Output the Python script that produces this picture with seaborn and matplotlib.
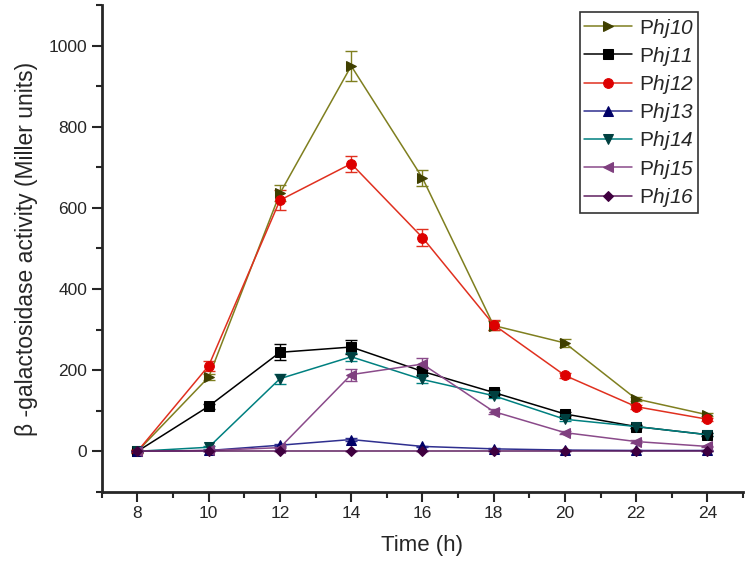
import numpy as np
import pandas as pd
import matplotlib
matplotlib.use('Agg')
import matplotlib.pyplot as plt
import seaborn as sns
from matplotlib.ticker import MultipleLocator

time_h = [8, 10, 12, 14, 16, 18, 20, 22, 24]

names = ['Phj10', 'Phj11', 'Phj12', 'Phj13', 'Phj14', 'Phj15', 'Phj16']

phj10 = [0, 183, 636, 950, 674, 310, 267, 129, 90]
phj11 = [0, 111, 244, 257, 197, 145, 92, 61, 41]
phj12 = [0, 211, 619, 709, 527, 312, 187, 110, 79]
phj13 = [0, 2, 15, 29, 12, 6, 3, 2, 2]
phj14 = [0, 10, 179, 233, 177, 137, 79, 61, 41]
phj15 = [0, 2, 9, 189, 215, 98, 46, 24, 12]
phj16 = [0, 0, 0, 0, 0, 0, 0, 0, 0]

err10 = [3, 8, 20, 38, 20, 12, 10, 5, 4]
err11 = [2, 6, 20, 18, 10, 6, 5, 3, 3]
err12 = [3, 12, 25, 20, 20, 12, 6, 5, 4]
err13 = [1, 1, 2, 3, 2, 1, 1, 1, 1]
err14 = [1, 4, 12, 10, 8, 6, 4, 3, 3]
err15 = [1, 1, 2, 15, 15, 6, 4, 3, 2]
err16 = [0, 0, 0, 0, 0, 0, 0, 0, 0]

values = [phj10, phj11, phj12, phj13, phj14, phj15, phj16]
errors = [err10, err11, err12, err13, err14, err15, err16]

line_colors = ['#7f7f1f', '#000000', '#e0301f', '#2f2f8f', '#008080', '#8a4a8a', '#5f1f5f']
marker_colors = ['#3f3f00', '#000000', '#dd0000', '#000066', '#004040', '#7f3f7f', '#3f003f']
markers = ['>', 's', 'o', '^', 'v', '<', 'D']
msizes = [7.5, 6.5, 7, 7.5, 7.5, 7.5, 5.5]

sns.set_style('ticks')
plt.rcParams['font.family'] = ['Liberation Sans', 'DejaVu Sans']
plt.rcParams['mathtext.fontset'] = 'custom'
plt.rcParams['mathtext.it'] = 'Liberation Sans:italic'
plt.rcParams['mathtext.rm'] = 'Liberation Sans:italic'

fig = plt.figure(figsize=(7.49, 5.66), dpi=100)
ax = fig.add_axes([0.136, 0.131, 0.856, 0.86])

rows = []
for n, v in zip(names, values):
    for t, y in zip(time_h, v):
        rows.append({'time': t, 'value': y, 'promoter': n})
df = pd.DataFrame(rows)

for i, n in enumerate(names):
    ax.errorbar(time_h, values[i], yerr=errors[i], fmt='none', ecolor=line_colors[i],
                elinewidth=1, capsize=4, capthick=1, zorder=2)

for i, n in enumerate(names):
    sub = df[df.promoter == n]
    sns.lineplot(data=sub, x='time', y='value', ax=ax, color=line_colors[i],
                 marker=markers[i], markersize=msizes[i],
                 markerfacecolor=marker_colors[i], markeredgecolor=marker_colors[i],
                 linewidth=1.1, label='P$' + n[1:] + '$', zorder=3)

ax.set_xlim(7, 25)
ax.set_ylim(-100, 1100)
ax.set_xticks(time_h)
ax.set_yticks([0, 200, 400, 600, 800, 1000])
ax.xaxis.set_minor_locator(MultipleLocator(1))
ax.yaxis.set_minor_locator(MultipleLocator(100))
ax.tick_params(which='major', length=7, width=1.5, labelsize=12.5, direction='out')
ax.tick_params(which='minor', length=4, width=1.5, direction='out')
sns.despine(ax=ax)
for s in ['left', 'bottom']:
    ax.spines[s].set_linewidth(2)

ax.set_xlabel('Time (h)', fontsize=16, labelpad=10)
ax.set_ylabel(r'β -galactosidase activity (Miller units)', fontsize=16.5, labelpad=8)

leg = ax.legend(loc='upper right', bbox_to_anchor=(0.93, 0.985), fontsize=15,
                frameon=True, fancybox=False, edgecolor='black', handlelength=2.3,
                handletextpad=0.3, labelspacing=0.25, borderpad=0.2, borderaxespad=0)
leg.get_frame().set_linewidth(1.2)

fig.savefig('out.png', dpi=100)
